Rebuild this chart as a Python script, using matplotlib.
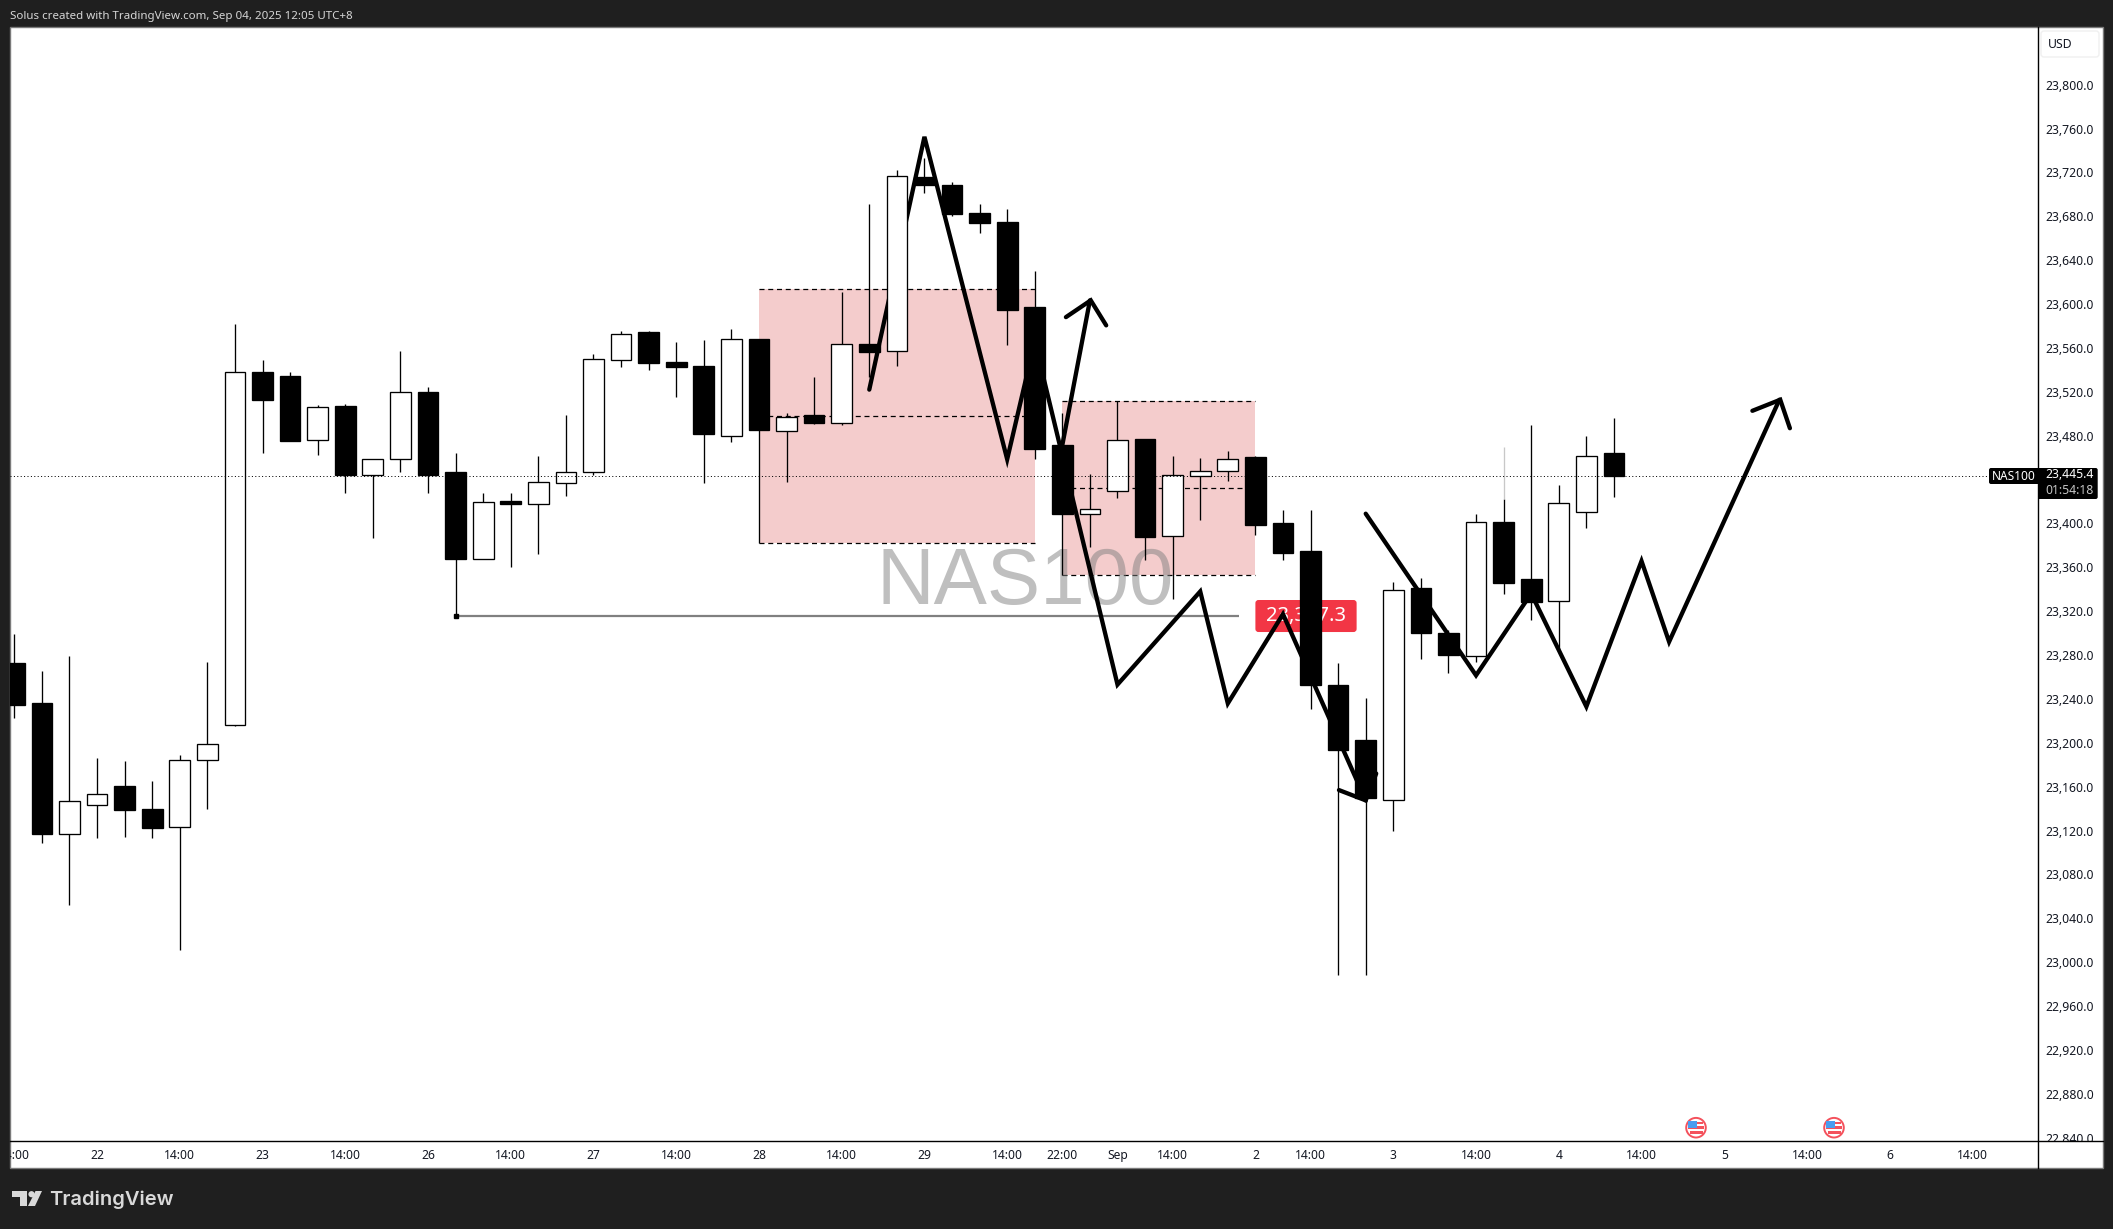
import matplotlib
matplotlib.use("Agg")
import matplotlib.pyplot as plt
from matplotlib.patches import Rectangle, Circle, Polygon, FancyBboxPatch
from matplotlib.transforms import Bbox, ScaledTranslation

W, H = 2113, 1229
DARK = "#1f1f1f"
INK = "#131722"
plt.rcParams["font.family"] = ["Noto Sans", "DejaVu Sans"]

# candle data
opens = [23274.5, 23237.9, 23118.2, 23145.5, 23162.6, 23141.4, 23124.7, 23185.8, 23218.4, 23539.5,
         23536.2, 23477.6, 23509.0, 23446.3, 23460.9, 23521.6, 23448.7, 23369.8, 23422.3, 23419.8,
         23439.0, 23448.3, 23550.5, 23576.5, 23548.9, 23545.3, 23481.1, 23570.0, 23486.3, 23500.7,
         23493.8, 23565.5, 23559.3, 23717.5, 23710.4, 23685.0, 23676.5, 23599.0, 23473.3, 23410.8,
         23431.6, 23478.9, 23389.9, 23445.3, 23449.9, 23462.2, 23402.3, 23376.8, 23254.6, 23204.5,
         23150.1, 23343.0, 23301.8, 23280.6, 23403.1, 23351.2, 23330.7, 23412.5, 23465.9]
closes = [23236.7, 23118.2, 23148.4, 23154.9, 23140.2, 23124.3, 23185.8, 23200.5, 23539.5, 23513.9,
          23477.2, 23507.8, 23445.9, 23460.9, 23521.2, 23445.9, 23369.8, 23421.0, 23419.8, 23439.4,
          23448.3, 23552.1, 23574.9, 23548.5, 23544.8, 23483.4, 23569.7, 23487.3, 23498.7, 23493.5,
          23565.1, 23558.0, 23718.2, 23710.4, 23684.0, 23675.9, 23596.7, 23469.7, 23410.5, 23414.7,
          23477.6, 23389.6, 23445.7, 23449.2, 23460.3, 23400.7, 23375.0, 23254.9, 23195.1, 23151.9,
          23340.8, 23301.8, 23282.0, 23403.5, 23347.6, 23330.3, 23420.1, 23463.7, 23445.4]
highs = [23301.0, 23267.2, 23281.0, 23187.8, 23185.4, 23167.1, 23190.7, 23275.3, 23583.5, 23550.9,
         23539.5, 23509.8, 23510.6, 23460.9, 23559.0, 23526.1, 23465.8, 23429.6, 23429.6, 23463.4,
         23500.8, 23556.2, 23577.4, 23577.4, 23567.2, 23569.1, 23579.2, 23570.0, 23502.6, 23535.2,
         23612.7, 23693.1, 23724.0, 23735.0, 23713.0, 23693.1, 23688.2, 23631.9, 23502.6, 23446.6,
         23513.0, 23478.9, 23463.2, 23461.6, 23467.8, 23463.5, 23414.1, 23414.0, 23274.4, 23242.7,
         23348.0, 23352.0, 23304.7, 23410.4, 23424.1, 23491.5, 23436.7, 23481.4, 23497.6]
lows = [23224.1, 23110.9, 23054.3, 23114.6, 23116.2, 23115.4, 23013.2, 23141.8, 23216.7, 23466.2,
        23477.2, 23464.6, 23429.2, 23388.9, 23449.1, 23429.2, 23317.7, 23369.8, 23362.5, 23374.3,
        23426.4, 23446.3, 23544.0, 23542.0, 23516.7, 23438.8, 23475.9, 23384.4, 23439.5, 23492.9,
        23491.9, 23535.0, 23545.6, 23703.2, 23682.4, 23666.7, 23564.5, 23461.0, 23354.5, 23379.9,
        23425.1, 23368.5, 23333.3, 23404.9, 23440.8, 23391.3, 23368.8, 23233.0, 22990.0, 22990.0,
        23121.6, 23278.1, 23265.4, 23275.5, 23337.5, 23313.4, 23287.4, 23398.1, 23425.9]
faint_wick = [54, 23424.1, 23471.3]

# 23,440 sits behind the last price tag, so it is not shown
y_ticks = [v for v in range(23800, 22800, -40) if v != 23440]
x_tick_pos = [0, 3, 6, 9, 12, 15, 18, 21, 24, 27, 30, 33, 36, 38, 40, 42, 45, 47, 50, 53, 56, 59, 62, 65, 68, 71]
x_tick_lab = ["14:00", "22", "14:00", "23", "14:00", "26", "14:00", "27", "14:00", "28", "14:00", "29",
              "14:00", "22:00", "Sep", "14:00", "2", "14:00", "3", "14:00", "4", "14:00", "5", "14:00",
              "6", "14:00"]

# zones: first bar, last bar, top, middle, bottom
zone1 = [27, 37, 23615.3, 23499.4, 23384.4]
zone2 = [38, 45, 23513.0, 23433.9, 23354.5]

# hand drawn paths
path_a_x = [31, 33, 36, 37, 40, 43, 44, 46, 49]
path_a_y = [23523.8, 23754.3, 23460.3, 23567.8, 23254.9, 23339.8, 23237.7, 23319.1, 23149.3]
head_a_x = [48.03, 49, 49.38]
head_a_y = [23158.7, 23149.3, 23173.8]
path_b_x = [38, 39]
path_b_y = [23473.3, 23605.2]
head_b_x = [38.13, 39.03, 39.59]
head_b_y = [23589.9, 23605.2, 23582.4]
path_c_x = [49, 53, 55, 57, 59, 60, 64]
path_c_y = [23410.7, 23263.3, 23337.9, 23234.8, 23367.5, 23293.9, 23514.6]
head_c_x = [63.02, 64.03, 64.38]
head_c_y = [23504.5, 23514.6, 23488.6]

level_start, level_end, level_price = 16, 44.4, 23317.7
last_price = 23445.4

# pixel <-> data mapping of the chart pane
pane_l, pane_r, pane_t, pane_b = 10, 2038, 27, 1141
bar0, bar_step = 14.3, 27.58
px_per_usd = 1.0968
y800 = 86.7

fig = plt.figure(figsize=(W / 100, H / 100), dpi=100, facecolor=DARK)


def px_axes(z):
    a = fig.add_axes([0, 0, 1, 1], zorder=z)
    a.set_xlim(0, W)
    a.set_ylim(H, 0)
    a.axis("off")
    a.patch.set_alpha(0)
    return a


bg = px_axes(0)
bg.add_patch(Rectangle((9.5, 26.5), 2093.5, 1141.5, fc="white", ec="#7a7a7a", lw=1))

ax = fig.add_axes([pane_l / W, 1 - pane_b / H, (pane_r - pane_l) / W, (pane_b - pane_t) / H], zorder=1)
ax.set_xlim((pane_l - bar0) / bar_step, (pane_r - bar0) / bar_step)
ax.set_ylim(23800 - (pane_b - y800) / px_per_usd, 23800 + (y800 - pane_t) / px_per_usd)
ax.patch.set_alpha(0)
for s in ax.spines.values():
    s.set_visible(False)

# zones
for z in (zone1, zone2):
    ax.add_patch(Rectangle((z[0], z[4]), z[1] - z[0], z[2] - z[4], fc="#f4cccc", ec="none", zorder=1))
    ax.hlines([z[2], z[3], z[4]], z[0], z[1], color="black", lw=0.9, linestyles=[(0, (4, 3))], zorder=1.5)

ax.text(36.65, 23347.5, "NAS100", family="Liberation Sans", fontsize=57.5, color="#808080", alpha=0.5,
        ha="center", va="center", zorder=2)

# level with its label
ax.hlines(level_price, level_start, level_end, color="#808080", lw=1.6, zorder=2.2)
ax.plot([level_start], [level_price], "s", color="black", ms=3.5, zorder=2.3)
ax.add_patch(FancyBboxPatch((45.0, 23302.8), 3.67, 29.2, boxstyle="round,pad=0,rounding_size=0.11",
                            mutation_aspect=25.15, fc="#f23645", ec="none", zorder=2.4))
ax.text(46.83, level_price, "23,317.3", color="white", fontsize=14.5, fontweight="bold", ha="center",
        va="center", zorder=2.5)

# drawings sit under the candles
for xs, ys in ((path_a_x, path_a_y), (head_a_x, head_a_y), (path_b_x, path_b_y), (head_b_x, head_b_y),
               (path_c_x, path_c_y), (head_c_x, head_c_y)):
    ax.plot(xs, ys, color="black", lw=3.1, solid_capstyle="round", solid_joinstyle="miter", zorder=3)

# candles
bars = list(range(len(opens)))
ax.vlines(bars, lows, highs, color="black", lw=0.95, zorder=4)
ax.vlines(faint_wick[0], faint_wick[1], faint_wick[2], color="#c8c8c8", lw=0.95, zorder=4)
tops = [max(o, c) for o, c in zip(opens, closes)]
bots = [min(o, c) for o, c in zip(opens, closes)]
cols = ["white" if c > o else "black" for o, c in zip(opens, closes)]
ax.bar(bars, [t - b for t, b in zip(tops, bots)], bottom=bots, width=0.75, color=cols, edgecolor="black",
       linewidth=0.95, zorder=5)

ax.axhline(last_price, xmax=(1989 - pane_l) / (pane_r - pane_l), color="black", lw=0.72,
           linestyle=(0, (1, 2.4)), zorder=6)

# axes labels
ax.yaxis.tick_right()
ax.set_yticks(y_ticks)
ax.set_yticklabels([f"{v:,.1f}" for v in y_ticks], fontsize=8.8, color=INK)
ax.tick_params(axis="y", length=0, pad=5.5)
ax.set_xticks(x_tick_pos)
ax.set_xticklabels(x_tick_lab, fontsize=8.7, color=INK)
ax.tick_params(axis="x", length=0, pad=5.5)
clip_y = Bbox([[pane_r, H - pane_b], [2103, H - pane_t]])
clip_x = Bbox([[pane_l, H - 1168], [pane_r, H - pane_b]])
up2 = ScaledTranslation(0, 2 / 100, fig.dpi_scale_trans)
for t in ax.get_yticklabels():
    t.set_transform(t.get_transform() + up2)
    t.set_clip_box(clip_y)
    t.set_clip_on(True)
for t in ax.get_xticklabels():
    t.set_clip_box(clip_x)
    t.set_clip_on(True)

# everything around the pane
top = px_axes(2)
top.plot([pane_r, pane_r], [27, 1168], color="black", lw=1)
top.plot([pane_l, 2103], [pane_b, pane_b], color="black", lw=1)

top.add_patch(FancyBboxPatch((2043, 33), 54, 22, boxstyle="round,pad=2,rounding_size=3", fc="white",
                             ec="#f0f0f0", lw=1))
top.text(2060.5, 45, "USD", fontsize=8.8, color=INK, ha="center", va="center")

top.add_patch(FancyBboxPatch((1991, 470), 47, 12, boxstyle="round,pad=2,rounding_size=2", fc="black", ec="none"))
top.add_patch(FancyBboxPatch((2040, 470), 55.7, 27, boxstyle="round,pad=2,rounding_size=2", fc="black", ec="none"))
top.add_patch(Rectangle((2030, 468), 12, 16, fc="black", ec="none"))
top.add_patch(Rectangle((2038, 484), 6, 15, fc="black", ec="none"))
top.text(2013.5, 476.5, "NAS100", fontsize=8.6, color="white", ha="center", va="center")
top.text(2069.5, 475, f"{last_price:,.1f}", fontsize=8.8, color="white", ha="center", va="center")
top.text(2069.5, 490, "01:54:18", fontsize=8.8, color="#c4c4c4", ha="center", va="center")

# event flags
for cx in (1696, 1834):
    cy = 1127.7
    top.add_patch(Circle((cx, cy), 9.8, fc="white", ec="#f4515c", lw=1.4))
    top.add_patch(Rectangle((cx - 8, cy - 1.5), 16, 3, fc="#f4515c", ec="none"))
    top.add_patch(Rectangle((cx - 6.5, cy + 3.5), 13, 3, fc="#f4515c", ec="none"))
    top.add_patch(Rectangle((cx + 0.5, cy - 6), 6, 2.5, fc="#f4515c", ec="none"))
    top.add_patch(Rectangle((cx - 8, cy - 7), 8.5, 7.5, fc="#4a9df0", ec="none"))

top.text(10, 16, "Solus created with TradingView.com, Sep 04, 2025 12:05 UTC+8", fontsize=8.3,
         color="#d6d6d6", ha="left", va="center")

# logo
logo = "#d9d9d9"
top.add_patch(Polygon([(12, 1191), (27, 1191), (27, 1206), (19.5, 1206), (19.5, 1197), (12, 1197)], fc=logo, ec="none"))
top.add_patch(Circle((31.5, 1194.2), 3.1, fc=logo, ec="none"))
top.add_patch(Polygon([(35.5, 1191), (42, 1191), (35, 1206), (28, 1206)], fc=logo, ec="none"))
top.text(49, 1199.5, "TradingView", family="Inter", fontsize=14.5, fontweight="semibold", color=logo,
         ha="left", va="center")

fig.savefig("out.png", dpi=100, facecolor=DARK)
